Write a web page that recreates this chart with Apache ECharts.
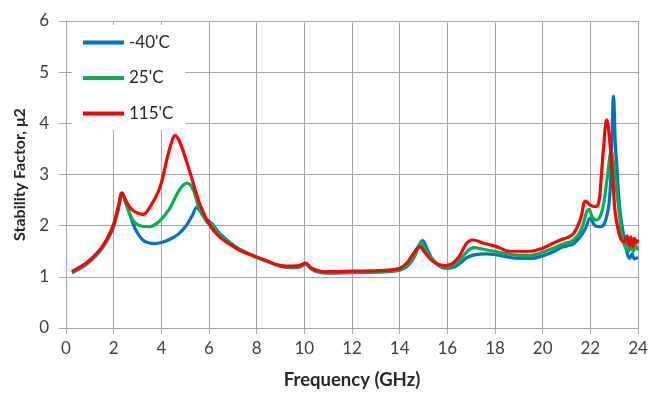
<!DOCTYPE html>
<html>
<head>
<meta charset="utf-8">
<script src="https://cdn.jsdelivr.net/npm/echarts@6/dist/echarts.min.js"></script>
<style>
  html, body { margin: 0; padding: 0; background: #fff; }
  #chart { width: 662px; height: 395px; }
</style>
</head>
<body>
<div id="chart"></div>
<script>
// series names as in the legend
const seriesNames = ["-40'C", "25'C", "115'C"];
const seriesColors = ["#0070C0", "#00B050", "#FF0000"];

// -40'C
const freqCold = [0.25, 0.5, 0.75, 1, 1.25, 1.5, 1.75, 2, 2.2, 2.35, 2.45, 2.59, 2.8, 2.97, 3.22, 3.5, 3.71, 4.0, 4.34, 4.7, 5.04, 5.3, 5.49, 5.6, 5.8, 6.16, 6.44, 7.0, 7.28, 8, 8.5, 9, 9.5, 9.8, 10.05, 10.3, 10.6, 11, 12, 13, 13.5, 14, 14.3, 14.6, 14.8, 14.96, 15.15, 15.4, 15.9, 16.2, 16.5, 16.8, 17.23, 17.6, 18.07, 18.63, 19, 19.5, 20, 20.5, 20.8, 21, 21.3, 21.6, 21.8, 21.99, 22.2, 22.4, 22.6, 22.8, 22.9, 22.97, 23.05, 23.1, 23.25, 23.45, 23.66, 23.75, 23.85, 24];
const valCold = [1.08, 1.14, 1.21, 1.3, 1.41, 1.55, 1.73, 1.98, 2.33, 2.62, 2.55, 2.35, 2.05, 1.88, 1.72, 1.66, 1.65, 1.67, 1.73, 1.83, 2.0, 2.2, 2.36, 2.3, 2.17, 2.02, 1.85, 1.63, 1.54, 1.38, 1.29, 1.21, 1.18, 1.19, 1.25, 1.15, 1.09, 1.07, 1.08, 1.09, 1.1, 1.13, 1.2, 1.38, 1.6, 1.71, 1.55, 1.33, 1.17, 1.18, 1.25, 1.37, 1.44, 1.45, 1.43, 1.38, 1.36, 1.36, 1.41, 1.5, 1.58, 1.6, 1.65, 1.8, 1.95, 2.15, 2.0, 1.98, 2.05, 2.5, 3.6, 4.53, 3.6, 3.24, 2.27, 1.69, 1.36, 1.45, 1.35, 1.38];

// 25'C
const freqRoom = [0.25, 0.5, 0.75, 1, 1.25, 1.5, 1.75, 2, 2.2, 2.35, 2.5, 2.8, 3.1, 3.5, 3.9, 4.34, 4.76, 5.08, 5.32, 5.6, 5.9, 6.16, 6.44, 7, 7.28, 8, 8.5, 9, 9.5, 9.8, 10.05, 10.3, 10.6, 11, 12, 13, 13.5, 14, 14.3, 14.6, 14.9, 15.1, 15.4, 15.9, 16.2, 16.5, 16.8, 17.1, 17.6, 18.07, 18.63, 19, 19.5, 20, 20.5, 20.8, 21, 21.3, 21.6, 21.94, 22.1, 22.26, 22.5, 22.7, 22.88, 23.0, 23.2, 23.35, 23.6, 23.7, 23.8, 23.9, 24];
const valRoom = [1.09, 1.15, 1.22, 1.31, 1.42, 1.56, 1.75, 2.01, 2.36, 2.62, 2.45, 2.11, 2.0, 1.98, 2.08, 2.33, 2.7, 2.83, 2.72, 2.33, 2.08, 2.0, 1.83, 1.62, 1.53, 1.38, 1.29, 1.21, 1.19, 1.2, 1.26, 1.16, 1.1, 1.08, 1.09, 1.1, 1.11, 1.14, 1.22, 1.4, 1.65, 1.52, 1.32, 1.19, 1.22, 1.32, 1.48, 1.57, 1.53, 1.49, 1.44, 1.42, 1.42, 1.48, 1.57, 1.63, 1.66, 1.72, 1.9, 2.32, 2.15, 2.11, 2.3, 2.9, 3.45, 3.1, 2.3, 1.75, 1.5, 1.62, 1.5, 1.6, 1.52];

// 115'C
const freqHot = [0.25, 0.5, 0.75, 1, 1.25, 1.5, 1.75, 2, 2.2, 2.35, 2.5, 2.66, 2.9, 3.22, 3.5, 3.92, 4.27, 4.48, 4.58, 4.75, 4.97, 5.32, 5.6, 6.02, 6.44, 7, 7.28, 8, 8.5, 9, 9.5, 9.8, 10.05, 10.3, 10.6, 11, 12, 13, 13.5, 14, 14.3, 14.6, 14.84, 15.05, 15.4, 15.9, 16.2, 16.5, 16.8, 17.06, 17.5, 18.07, 18.63, 19, 19.5, 20, 20.5, 20.8, 21, 21.3, 21.6, 21.8, 22.0, 22.2, 22.35, 22.45, 22.55, 22.69, 22.83, 22.97, 23.04, 23.22, 23.4, 23.55, 23.62, 23.7, 23.78, 23.85, 23.92, 24];
const valHot = [1.11, 1.17, 1.24, 1.33, 1.44, 1.58, 1.77, 2.03, 2.38, 2.64, 2.5, 2.37, 2.27, 2.22, 2.35, 2.72, 3.37, 3.7, 3.76, 3.66, 3.38, 2.86, 2.44, 2.02, 1.78, 1.6, 1.52, 1.39, 1.3, 1.22, 1.21, 1.22, 1.27, 1.17, 1.12, 1.1, 1.11, 1.12, 1.13, 1.17, 1.27, 1.47, 1.59, 1.48, 1.3, 1.22, 1.26, 1.4, 1.65, 1.72, 1.66, 1.59, 1.5, 1.5, 1.5, 1.56, 1.67, 1.73, 1.76, 1.85, 2.15, 2.48, 2.4, 2.37, 2.45, 2.9, 3.5, 4.07, 3.57, 2.72, 2.27, 1.82, 1.68, 1.8, 1.6, 1.78, 1.6, 1.75, 1.66, 1.73];

const xTicks = [0, 2, 4, 6, 8, 10, 12, 14, 16, 18, 20, 22, 24];
const yTicks = [0, 1, 2, 3, 4, 5, 6];

const zip = (xs, ys) => xs.map((x, i) => [x, ys[i]]);
const allFreq = [freqCold, freqRoom, freqHot];
const allVals = [valCold, valRoom, valHot];

const chart = echarts.init(document.getElementById("chart"));
const font = "Lato, 'Open Sans', sans-serif";
const gridColor = "#a6a6a6";

const option = {
  backgroundColor: "#fff",
  animation: false,
  textStyle: { fontFamily: font },
  grid: { left: 66, right: 24, top: 21, bottom: 65, containLabel: false },
  legend: {
    orient: "vertical",
    left: 72,
    top: 25,
    backgroundColor: "#fff",
    padding: [9, 12, 8, 11],
    itemGap: 18.5,
    itemWidth: 41,
    itemHeight: 4,
    icon: "rect",
    data: seriesNames,
    textStyle: { fontSize: 17, color: "#262626", fontFamily: font }
  },
  xAxis: {
    type: "value",
    min: xTicks[0],
    max: xTicks[xTicks.length - 1],
    interval: 2,
    name: "Frequency (GHz)",
    nameLocation: "middle",
    nameGap: 43,
    nameTextStyle: { fontSize: 18.5, fontWeight: "bold", color: "#262626" },
    axisLine: { show: true, lineStyle: { color: gridColor, width: 1 } },
    axisTick: { show: true, length: 6, lineStyle: { color: gridColor } },
    axisLabel: { fontSize: 17, color: "#404040", margin: 12 },
    splitLine: { show: true, lineStyle: { color: gridColor, width: 1 } }
  },
  yAxis: {
    type: "value",
    min: yTicks[0],
    max: yTicks[yTicks.length - 1],
    interval: 1,
    name: "Stability Factor, \u03bc2",
    nameLocation: "middle",
    nameGap: 38,
    nameTextStyle: { fontSize: 16, fontWeight: "bold", color: "#262626" },
    axisLine: { show: true, lineStyle: { color: gridColor, width: 1 } },
    axisTick: { show: true, length: 7, lineStyle: { color: gridColor } },
    axisLabel: { fontSize: 17, color: "#404040", margin: 17 },
    splitLine: { show: true, lineStyle: { color: gridColor, width: 1 } }
  },
  series: seriesNames.map((name, i) => ({
    name: name,
    type: "line",
    data: zip(allFreq[i], allVals[i]),
    showSymbol: false,
    smooth: 0.4,
    color: seriesColors[i],
    lineStyle: { color: seriesColors[i], width: 3.2 },
    z: 2 + i
  }))
};

chart.setOption(option);
</script>
</body>
</html>
